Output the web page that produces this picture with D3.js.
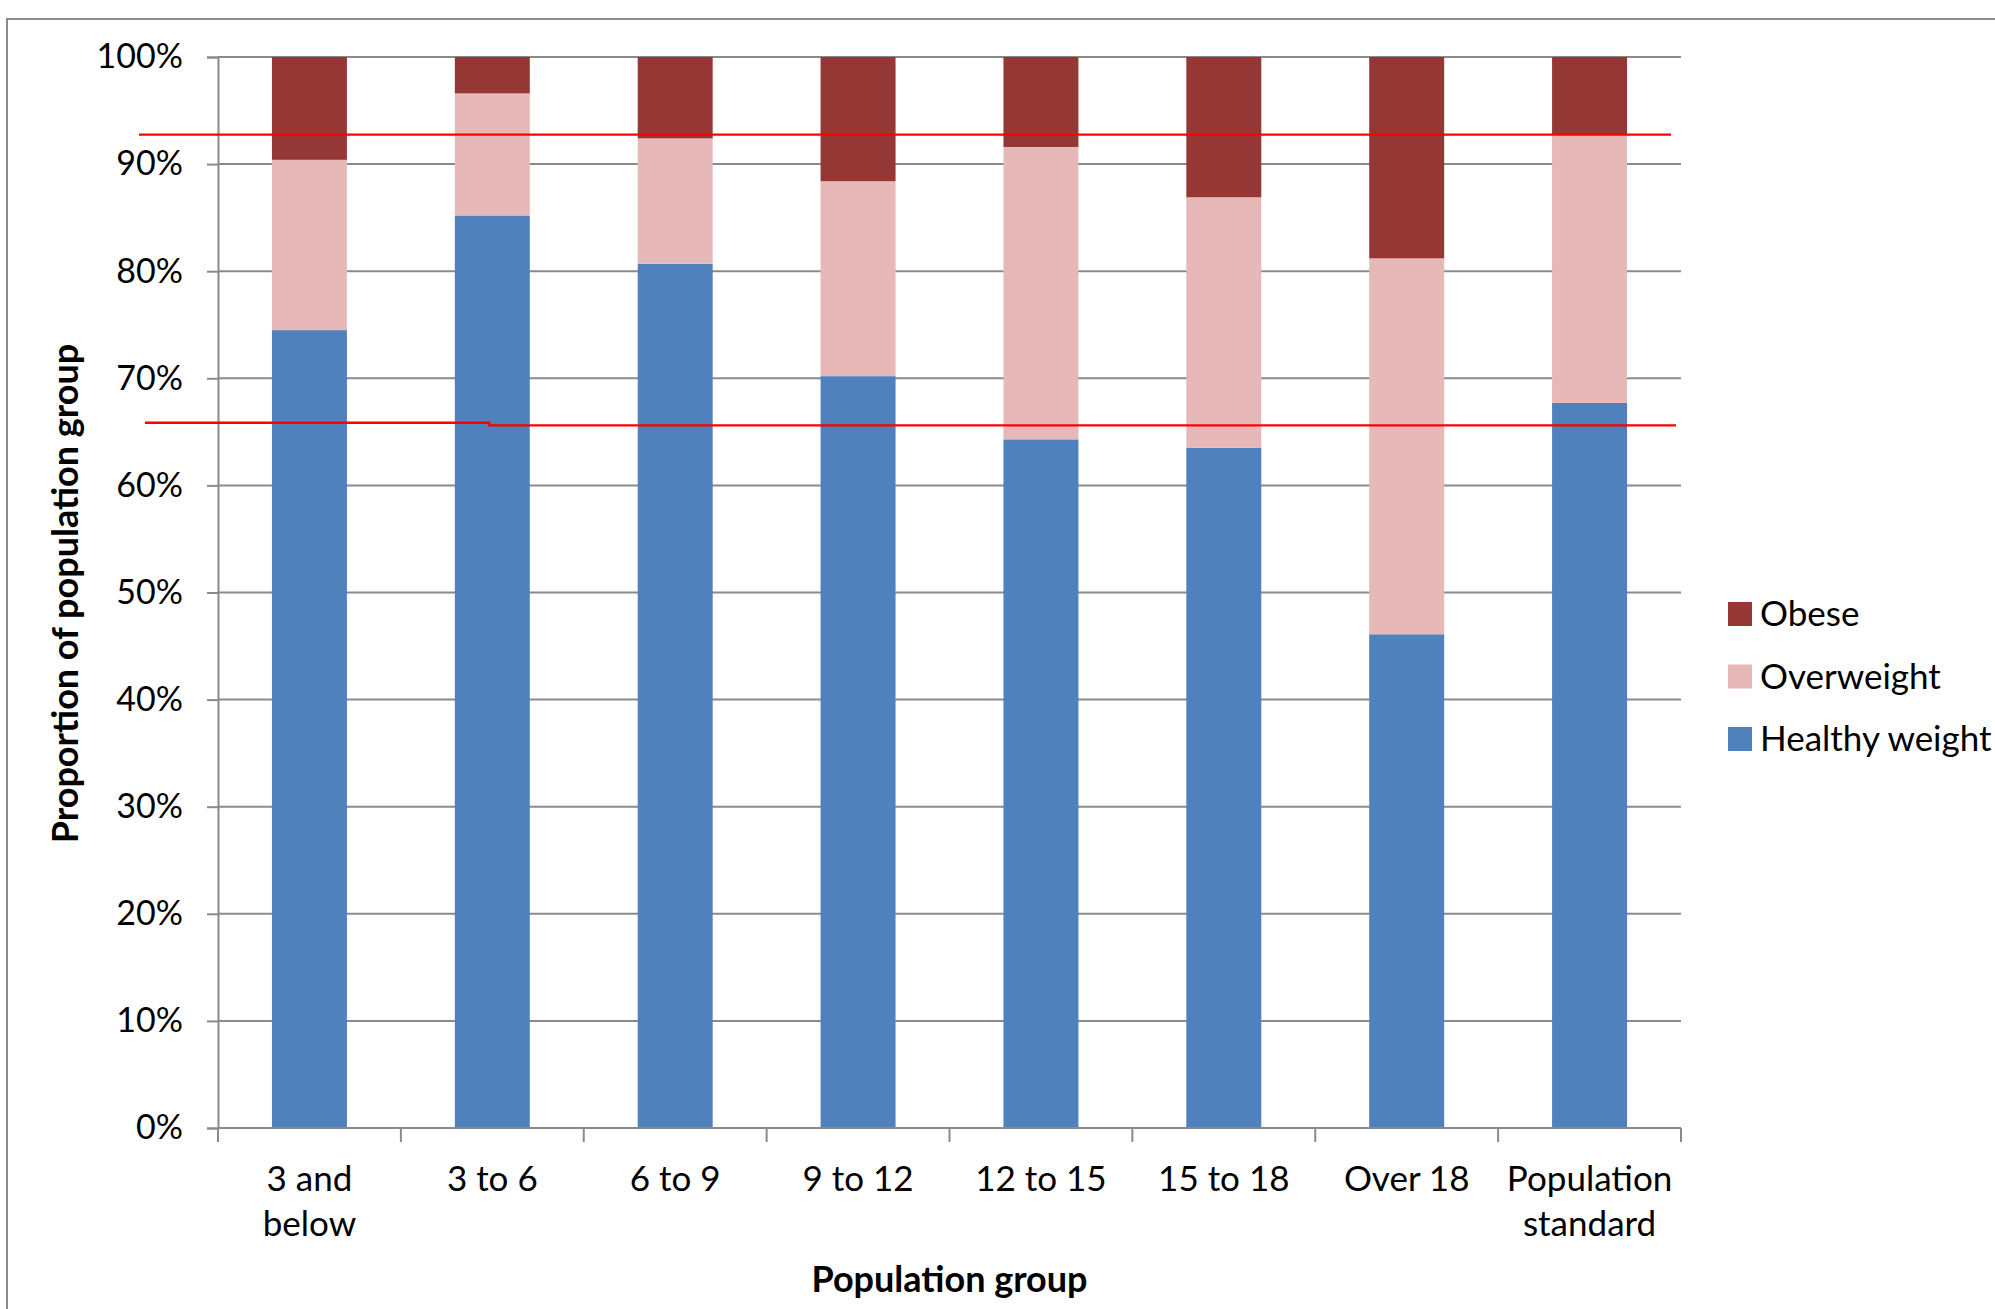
<!DOCTYPE html>
<html>
<head>
<meta charset="utf-8">
<script src="https://cdn.jsdelivr.net/npm/d3@7"></script>
<style>
  html, body { margin: 0; padding: 0; background: #ffffff; }
  svg { display: block; font-family: Lato, "Open Sans", sans-serif; }
</style>
</head>
<body>
<svg id="chart" width="1995" height="1309"></svg>
<script>
// Population groups along the x axis (multi-line labels split on "\n")
const categories = ["3 and\nbelow", "3 to 6", "6 to 9", "9 to 12", "12 to 15", "15 to 18", "Over 18", "Population\nstandard"];

// Share of each group by weight status, in percent
const healthyWeight = [74.5, 85.2, 80.7, 70.2, 64.3, 63.5, 46.1, 67.7];
const overweight    = [15.9, 11.4, 11.7, 18.2, 27.3, 23.4, 35.1, 25.1];
const obese         = [ 9.6,  3.4,  7.6, 11.6,  8.4, 13.1, 18.8,  7.2];

const seriesNames = ["Healthy weight", "Overweight", "Obese"];
const seriesColors = ["#4f81bd", "#e6b9b8", "#953735"];

// Y axis ticks
const yTicks = [0, 10, 20, 30, 40, 50, 60, 70, 80, 90, 100];

// Red reference lines (percent levels); the lower one steps slightly mid-way
const upperRefLevel = 92.75;
const lowerRefLevels = [65.85, 65.6];

const svg = d3.select("#chart");

const plot = { left: 218, right: 1681, top: 57, bottom: 1128 };

const rows = categories.map((c, i) => ({
  cat: c,
  "Healthy weight": healthyWeight[i],
  "Overweight": overweight[i],
  "Obese": obese[i]
}));

const x = d3.scaleBand()
  .domain(categories)
  .range([plot.left, plot.right])
  .paddingInner(0.59)
  .paddingOuter(0.295);

const y = d3.scaleLinear().domain([0, 100]).range([plot.bottom, plot.top]);

const color = d3.scaleOrdinal().domain(seriesNames).range(seriesColors);

// Outer chart frame
svg.append("path")
  .attr("d", `M7,1309 V19 H1995`)
  .attr("fill", "none")
  .attr("stroke", "#8c8c8c")
  .attr("stroke-width", 2);

// Horizontal gridlines
svg.append("g")
  .selectAll("line")
  .data(yTicks)
  .join("line")
  .attr("x1", plot.left)
  .attr("x2", plot.right)
  .attr("y1", d => y(d))
  .attr("y2", d => y(d))
  .attr("stroke", "#8a8a8a")
  .attr("stroke-width", 2);

// Y axis
const yAxis = svg.append("g")
  .attr("transform", `translate(${plot.left},0)`)
  .call(d3.axisLeft(y).tickValues(yTicks).tickFormat(d => d + "%").tickSize(11).tickPadding(24));
yAxis.select(".domain").attr("stroke", "#8a8a8a").attr("stroke-width", 2);
yAxis.selectAll(".tick line").attr("stroke", "#8a8a8a").attr("stroke-width", 2);
yAxis.selectAll(".tick text")
  .attr("font-family", "Lato, sans-serif")
  .attr("font-size", 34)
  .attr("fill", "#000");

// Stacked bars
const stacked = d3.stack().keys(seriesNames)(rows);

svg.append("g")
  .selectAll("g")
  .data(stacked)
  .join("g")
  .attr("fill", d => color(d.key))
  .selectAll("rect")
  .data(d => d)
  .join("rect")
  .attr("x", d => x(d.data.cat))
  .attr("width", x.bandwidth())
  .attr("y", d => y(d[1]))
  .attr("height", d => y(d[0]) - y(d[1]));

// X axis line and category-boundary ticks
const step = x.step();
const boundaries = categories.map(c => x(c) - (step - x.bandwidth()) / 2).concat([plot.right]);
const xAxis = svg.append("g");
xAxis.append("line")
  .attr("x1", plot.left).attr("x2", plot.right)
  .attr("y1", plot.bottom).attr("y2", plot.bottom)
  .attr("stroke", "#8a8a8a").attr("stroke-width", 2);
xAxis.selectAll(".xtick")
  .data(boundaries)
  .join("line")
  .attr("class", "xtick")
  .attr("x1", d => d).attr("x2", d => d)
  .attr("y1", plot.bottom).attr("y2", plot.bottom + 14)
  .attr("stroke", "#8a8a8a").attr("stroke-width", 2);

// Category labels
const labels = svg.append("g")
  .attr("font-family", "Lato, sans-serif")
  .attr("font-size", 35)
  .attr("fill", "#000")
  .attr("text-anchor", "middle");
labels.selectAll("text")
  .data(categories)
  .join("text")
  .attr("x", d => x(d) + x.bandwidth() / 2)
  .attr("y", plot.bottom + 63)
  .each(function (d) {
    const t = d3.select(this);
    d.split("\n").forEach((line, i) => {
      t.append("tspan")
        .attr("x", x(d) + x.bandwidth() / 2)
        .attr("dy", i === 0 ? 0 : 45)
        .text(line);
    });
  });

// Red reference lines
const red = svg.append("g").attr("stroke", "#ff0000").attr("stroke-width", 2.4).attr("fill", "none");
red.append("line")
  .attr("x1", plot.left - 79).attr("x2", plot.right - 10)
  .attr("y1", y(upperRefLevel)).attr("y2", y(upperRefLevel));
const stepX = x(categories[1]) + x.bandwidth() / 2 - 3;
red.append("path")
  .attr("d", `M${plot.left - 73},${y(lowerRefLevels[0])} H${stepX} V${y(lowerRefLevels[1])} H${plot.right - 5}`);

// Axis titles
svg.append("text")
  .attr("x", (plot.left + plot.right) / 2)
  .attr("y", 1292)
  .attr("text-anchor", "middle")
  .attr("font-family", "Lato, sans-serif")
  .attr("font-weight", 700)
  .attr("font-size", 36)
  .text("Population group");

svg.append("text")
  .attr("transform", `translate(78,${(plot.top + plot.bottom) / 2 + 1}) rotate(-90)`)
  .attr("text-anchor", "middle")
  .attr("font-family", "Lato, sans-serif")
  .attr("font-weight", 700)
  .attr("font-size", 36)
  .text("Proportion of population group");

// Legend (top to bottom: Obese, Overweight, Healthy weight)
const legendItems = seriesNames.slice().reverse();
const legend = svg.append("g")
  .selectAll("g")
  .data(legendItems)
  .join("g")
  .attr("transform", (d, i) => `translate(1728,${614 + i * 62.5})`);
legend.append("rect")
  .attr("x", 0).attr("y", -12)
  .attr("width", 24).attr("height", 24)
  .attr("fill", d => color(d));
legend.append("text")
  .attr("x", 32)
  .attr("y", 12)
  .attr("font-family", "Lato, sans-serif")
  .attr("font-size", 35)
  .attr("fill", "#000")
  .text(d => d);
</script>
</body>
</html>
